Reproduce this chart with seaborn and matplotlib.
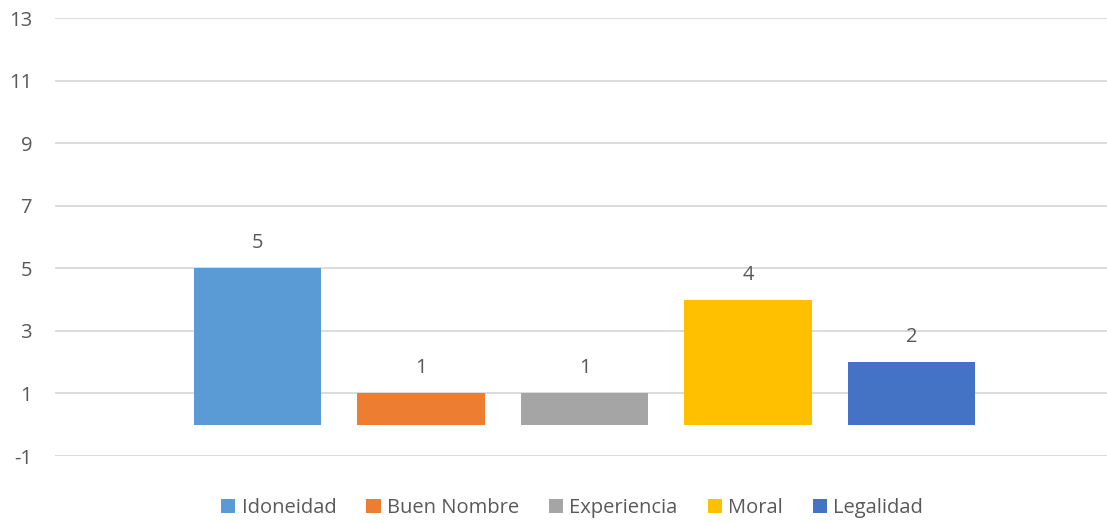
import matplotlib
matplotlib.use("Agg")
import matplotlib.pyplot as plt
from matplotlib.patches import Patch
import seaborn as sns
import pandas as pd

categories = ["Idoneidad", "Buen Nombre", "Experiencia", "Moral", "Legalidad"]
values = [5, 1, 1, 4, 2]
colors = ["#5B9BD5", "#ED7D31", "#A5A5A5", "#FFC000", "#4472C4"]
yticks = [-1, 1, 3, 5, 7, 9, 11, 13]

sns.set_theme(style="white")
plt.rcParams["font.family"] = ["Open Sans", "DejaVu Sans"]
txt = "#595959"
fs = 14.5

W, H = 1107, 523
fig = plt.figure(figsize=(W / 100, H / 100), dpi=100)
left, right, top, bottom = 55, 1114, 18, 456
ax = fig.add_axes([left / W, 1 - bottom / H, (right - left) / W, (bottom - top) / H])

df = pd.DataFrame({"cat": categories, "val": values})
sns.barplot(data=df, x="cat", y="val", hue="cat", palette=colors, width=0.777,
            legend=False, ax=ax, saturation=1, linewidth=0, edgecolor="none")

ax.set_ylim(-1, 13)
ax.set_xlim(-1.2385, 5.2385)
ax.set_yticks(yticks)
ax.set_yticklabels([str(t) for t in yticks], fontsize=fs, color=txt)
ax.tick_params(axis="y", length=0, pad=16.5)
ax.set_xticks([])
ax.set_xlabel("")
ax.set_ylabel("")
ax.yaxis.grid(True, color="#d9d9d9", linewidth=1.3)
ax.set_axisbelow(True)
for s in ax.spines.values():
    s.set_visible(False)

for i, v in enumerate(values):
    ax.annotate(str(v), (i, v), xytext=(0, 18), textcoords="offset points",
                ha="center", va="center", fontsize=fs, color=txt)

handles = [Patch(facecolor=c, edgecolor="none", label=l) for c, l in zip(colors, categories)]
fig.legend(handles=handles, loc="center", bbox_to_anchor=(572 / W, 1 - 508 / H),
           ncol=5, frameon=False, fontsize=fs, labelcolor=txt,
           handlelength=0.7, handleheight=0.7, handletextpad=0.3, columnspacing=1.5,
           borderpad=0)

fig.savefig("out.png", dpi=100)
